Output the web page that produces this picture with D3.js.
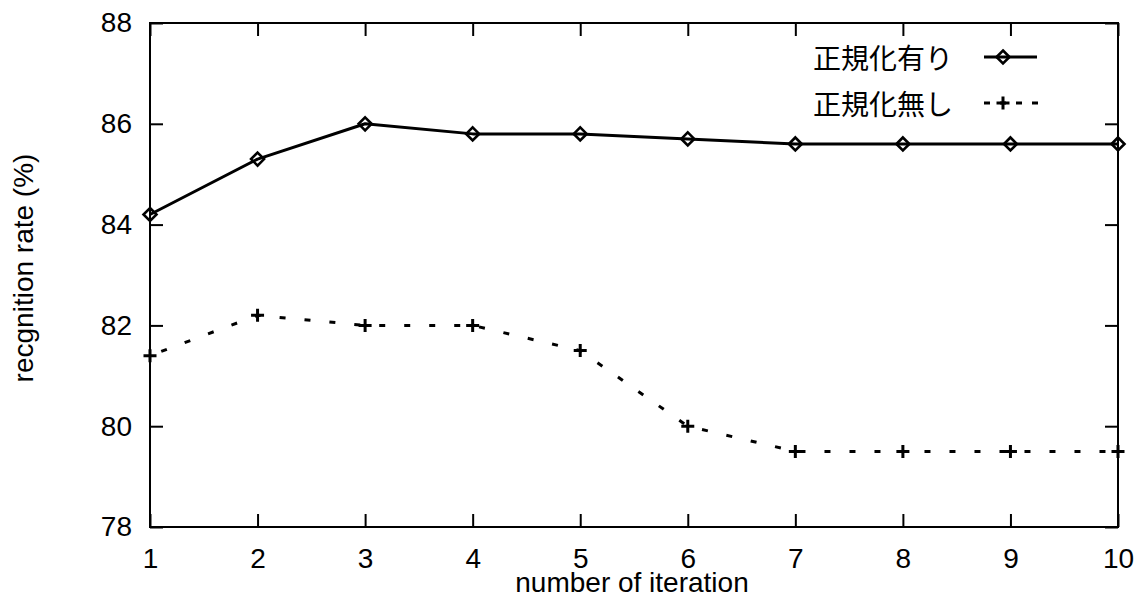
<!DOCTYPE html>
<html lang="ja">
  <head>
    <meta charset="utf-8">
    <title>recognition rate</title>
    <style>
        body { margin: 0; background: #fff; }
        svg { display: block; }
        text { font-family: "Liberation Sans", Arial, sans-serif; fill: #000; }
        .jp { font-family: "Noto Sans CJK JP", sans-serif; }
    </style>
    <script src="https://d3js.org/d3.v7.min.js"></script>
  </head>
  <body>
    <script>
    // values
    const iterations = [1, 2, 3, 4, 5, 6, 7, 8, 9, 10];
    const withNorm = [84.2, 85.3, 86.0, 85.8, 85.8, 85.7, 85.6, 85.6, 85.6, 85.6];
    const withoutNorm = [81.4, 82.2, 82.0, 82.0, 81.5, 80.0, 79.5, 79.5, 79.5, 79.5];
    const yTicks = [78, 80, 82, 84, 86, 88];
    const seriesNames = ["正規化有り", "正規化無し"];

    const W = 1136, H = 601;
    const plotL = 150, plotR = 1118, plotT = 23, plotB = 527;
    const fs = "28px";

    const svg = d3.select("body")
        .append("svg")
        .attr("width", W)
        .attr("height", H);

    const x = d3.scaleLinear()
        .domain([1, 10])
        .range([plotL, plotR]);

    const y = d3.scaleLinear()
        .domain([78, 88])
        .range([plotB, plotT]);

    const tickLen = 13;

    // frame
    svg.append("rect")
        .attr("x", plotL).attr("y", plotT)
        .attr("width", plotR - plotL).attr("height", plotB - plotT)
        .attr("fill", "none")
        .attr("stroke", "#000")
        .attr("stroke-width", 2);

    // axes, ticks pointing inward on all four sides
    const xAxis = svg.append("g")
        .attr("transform", `translate(0,${plotB})`)
        .call(d3.axisBottom(x).tickValues(iterations).tickSize(-tickLen).tickPadding(21));
    xAxis.select(".domain").remove();

    const xTop = svg.append("g")
        .attr("transform", `translate(0,${plotT})`)
        .call(d3.axisTop(x).tickValues(iterations).tickSize(-tickLen).tickFormat(""));
    xTop.select(".domain").remove();

    const yAxis = svg.append("g")
        .attr("transform", `translate(${plotL},0)`)
        .call(d3.axisLeft(y).tickValues(yTicks).tickSize(-tickLen).tickPadding(18));
    yAxis.select(".domain").remove();

    const yRight = svg.append("g")
        .attr("transform", `translate(${plotR},0)`)
        .call(d3.axisRight(y).tickValues(yTicks).tickSize(-tickLen).tickFormat(""));
    yRight.select(".domain").remove();

    svg.selectAll(".tick line")
        .attr("stroke", "#000")
        .attr("stroke-width", 2);

    svg.selectAll(".tick text")
        .style("font-family", "'Liberation Sans', Arial, sans-serif")
        .style("font-size", fs)
        .attr("fill", "#000");

    // axis titles
    svg.append("text")
        .attr("x", 632)
        .attr("y", 592)
        .attr("text-anchor", "middle")
        .style("font-size", fs)
        .text("number of iteration");

    svg.append("text")
        .attr("transform", "rotate(-90)")
        .attr("x", -268)
        .attr("y", 33)
        .attr("text-anchor", "middle")
        .style("font-size", fs)
        .text("recgnition rate (%)");

    const line = d3.line()
        .x((d, i) => x(iterations[i]))
        .y(d => y(d));

    const diamond = (cx, cy, r) =>
        `M${cx},${cy - r}L${cx + r},${cy}L${cx},${cy + r}L${cx - r},${cy}Z`;
    const plus = (cx, cy, r) =>
        `M${cx - r},${cy}H${cx + r}M${cx},${cy - r}V${cy + r}`;

    // series 1: solid with diamonds
    svg.append("path")
        .datum(withNorm)
        .attr("fill", "none")
        .attr("stroke", "#000")
        .attr("stroke-width", 3)
        .attr("stroke-linejoin", "round")
        .attr("d", line);

    svg.append("g")
        .selectAll("path")
        .data(withNorm)
        .join("path")
        .attr("d", (d, i) => diamond(x(iterations[i]), y(d), 6.5))
        .attr("fill", "none")
        .attr("stroke", "#000")
        .attr("stroke-width", 2.6);

    // series 2: dashed with plus signs
    svg.append("path")
        .datum(withoutNorm)
        .attr("fill", "none")
        .attr("stroke", "#000")
        .attr("stroke-width", 3)
        .attr("stroke-dasharray", "6,19")
        .attr("stroke-dashoffset", -12)
        .attr("d", line);

    svg.append("g")
        .selectAll("path")
        .data(withoutNorm)
        .join("path")
        .attr("d", (d, i) => plus(x(iterations[i]), y(d), 6.5))
        .attr("fill", "none")
        .attr("stroke", "#000")
        .attr("stroke-width", 3);

    // legend
    const lg = svg.append("g");
    const rows = [57, 103];

    lg.selectAll("text")
        .data(seriesNames)
        .join("text")
        .attr("class", "jp")
        .attr("x", 953)
        .attr("y", (d, i) => rows[i] + 2)
        .attr("dy", "0.35em")
        .attr("text-anchor", "end")
        .style("font-size", fs)
        .text(d => d);

    lg.append("line")
        .attr("x1", 984).attr("x2", 1037)
        .attr("y1", rows[0]).attr("y2", rows[0])
        .attr("stroke", "#000").attr("stroke-width", 3);
    lg.append("path")
        .attr("d", diamond(1003, rows[0], 6.5))
        .attr("fill", "none").attr("stroke", "#000").attr("stroke-width", 2.6);

    lg.append("line")
        .attr("x1", 984).attr("x2", 1040)
        .attr("y1", rows[1]).attr("y2", rows[1])
        .attr("stroke", "#000").attr("stroke-width", 3)
        .attr("stroke-dasharray", "6,10");
    lg.append("path")
        .attr("d", plus(1003, rows[1], 6.5))
        .attr("fill", "none").attr("stroke", "#000").attr("stroke-width", 3);
    </script>
  </body>
</html>
